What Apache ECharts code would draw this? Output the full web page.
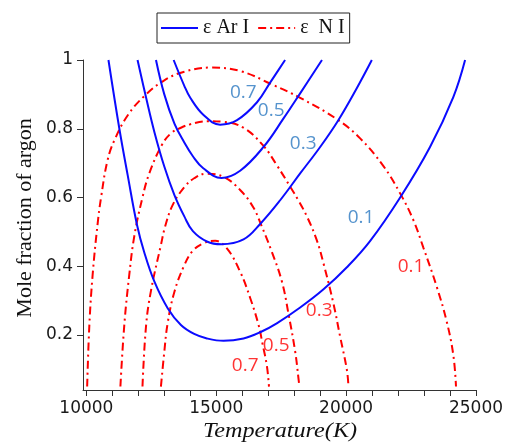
<!DOCTYPE html>
<html>
<head>
<meta charset="utf-8">
<script src="https://cdn.jsdelivr.net/npm/echarts@6/dist/echarts.min.js"></script>
<style>html,body{margin:0;padding:0;background:#fff}#chart{width:511px;height:442px}</style>
</head>
<body>
<div id="chart"></div>
<script>
// ---- data: [Temperature (K), mole fraction of argon] ----
const arLevels = ['0.1', '0.3', '0.5', '0.7'];
const ar01 = [[10850,1.0],[11270,0.80],[11590,0.665],[11950,0.52],[12230,0.44],[12620,0.355],[13130,0.278],[13640,0.229],[14150,0.203],[14640,0.19],[15280,0.183],[16050,0.19],[16690,0.208],[17330,0.234],[18230,0.28],[19130,0.333],[20030,0.397],[20920,0.473],[22080,0.6],[23230,0.747],[24130,0.893],[24580,1.0]];
const ar03 = [[11970,1.0],[12300,0.89],[12620,0.79],[13000,0.69],[13390,0.607],[13770,0.545],[14100,0.502],[14640,0.472],[15200,0.464],[16050,0.478],[16690,0.523],[17460,0.592],[18230,0.67],[19000,0.747],[19700,0.825],[20410,0.918],[20990,1.0]];
const ar05 = [[12680,1.0],[13000,0.9],[13390,0.815],[13770,0.76],[14100,0.72],[14500,0.685],[15200,0.657],[15920,0.678],[16820,0.747],[17590,0.83],[18230,0.903],[19070,1.0]];
const ar07 = [[13360,1.0],[13770,0.925],[14000,0.89],[14510,0.84],[15150,0.812],[15800,0.825],[16570,0.877],[17080,0.935],[17650,1.0]];

const nLevels = ['0.1', '0.3', '0.5', '0.7'];
const n01 = [[10030,0.05],[10115,0.229],[10240,0.374],[10435,0.525],[10565,0.6],[10820,0.71],[11100,0.77],[11600,0.84],[12230,0.895],[13000,0.941],[13770,0.966],[14770,0.978],[15920,0.968],[17200,0.927],[18230,0.89],[19700,0.825],[20540,0.772],[21430,0.692],[22080,0.612],[22590,0.534],[22970,0.455],[23490,0.34],[23870,0.24],[24130,0.14],[24230,0.05]];
const n03 = [[11310,0.05],[11460,0.229],[11650,0.374],[11850,0.49],[12160,0.6],[12420,0.67],[12900,0.752],[13260,0.787],[13640,0.803],[14000,0.813],[14640,0.822],[15280,0.82],[16050,0.803],[16820,0.75],[17340,0.693],[17850,0.631],[18160,0.592],[18490,0.545],[18870,0.476],[19130,0.408],[19510,0.292],[19770,0.195],[20030,0.098],[20090,0.05]];
const n05 = [[12160,0.05],[12300,0.229],[12490,0.33],[12870,0.462],[13030,0.515],[13320,0.578],[13770,0.63],[14150,0.656],[14600,0.669],[15280,0.66],[15920,0.622],[16430,0.571],[16720,0.522],[17140,0.442],[17530,0.355],[17780,0.262],[18040,0.151],[18165,0.074],[18200,0.05]];
const n07 = [[12870,0.05],[13000,0.151],[13130,0.235],[13390,0.326],[13770,0.403],[14100,0.445],[14510,0.467],[14960,0.474],[15410,0.452],[15920,0.384],[16310,0.307],[16630,0.229],[16780,0.175],[16950,0.11],[17030,0.05]];

// curve annotations (data coordinates of label centres)
const arLabelAnchors = [[20577,0.543],[18346,0.758],[17115,0.854],[16040,0.906]];
const nLabelAnchors = [[22500,0.398],[18962,0.270],[17308,0.168],[16115,0.110]];

// ticks
const xTickValues = [10000,11000,12000,13000,14000,15000,16000,17000,18000,19000,20000,21000,22000,23000,24000,25000];
const xLabelValues = [10000,15000,20000,25000];
const yTickValues = [0.2,0.4,0.6,0.8,1];

const AR_NAME = 'ε Ar I';
const N_NAME = 'ε  N I';
const BLUE = '#0b0bff';
const RED = '#ff0000';
const dashDot = [8,4,2,4];

const arSeries = [ar01, ar03, ar05, ar07].map(d => ({
  name: AR_NAME, type: 'line', data: d, symbol: 'none', showSymbol: false, smooth: 0.4,
  lineStyle: {color: BLUE, width: 2}, itemStyle: {color: BLUE}, z: 3
}));
const nSeries = [n01, n03, n05, n07].map(d => ({
  name: N_NAME, type: 'line', data: d, symbol: 'none', showSymbol: false, smooth: 0.4,
  lineStyle: {color: RED, width: 2, type: dashDot}, itemStyle: {color: RED}, z: 2
}));
const labelSeries = (anchors, texts, color, nm) => ({
  name: nm, type: 'scatter', symbolSize: 0, silent: true, z: 5,
  data: anchors.map((a, i) => ({value: a, name: texts[i]})),
  label: {show: true, position: 'inside', formatter: '{b}', color: color,
          fontFamily: 'Open Sans', fontSize: 19}
});

const chart = echarts.init(document.getElementById('chart'), null, {renderer: 'canvas'});
chart.setOption({
  animation: false,
  backgroundColor: '#fff',
  grid: {left: 83, right: 35, top: 60, bottom: 52, containLabel: false},
  legend: {
    left: 157, top: 13, orient: 'horizontal',
    data: [{name: AR_NAME}, {name: N_NAME}],
    itemWidth: 37, itemHeight: 14, itemGap: 8,
    padding: [5, 5, 5, 3],
    itemStyle: {opacity: 0},
    borderColor: '#222', borderWidth: 1, borderRadius: 0,
    textStyle: {fontFamily: 'Liberation Serif', fontSize: 20, color: '#111'}
  },
  xAxis: {
    type: 'value', min: 9870, max: 25000,
    axisLine: {show: true, onZero: false, lineStyle: {color: '#333', width: 1}},
    axisTick: {show: true, length: 6, inside: false, customValues: xTickValues, lineStyle: {color: '#333'}},
    axisLabel: {customValues: xLabelValues, formatter: v => String(v), fontFamily: 'DejaVu Sans', fontSize: 17, color: '#1a1a1a', margin: 10},
    splitLine: {show: false}
  },
  yAxis: {
    type: 'value', min: 0.04, max: 1,
    axisLine: {show: true, onZero: false, lineStyle: {color: '#333', width: 1}},
    axisTick: {show: true, length: 6, inside: false, customValues: yTickValues, lineStyle: {color: '#333'}},
    axisLabel: {customValues: yTickValues, formatter: v => String(+v.toFixed(2)), fontFamily: 'DejaVu Sans', fontSize: 17, color: '#1a1a1a', margin: 10},
    splitLine: {show: false}
  },
  graphic: [
    {type: 'text', x: 25, y: 218, rotation: Math.PI / 2,
     style: {text: 'Mole fraction of argon', font: '22px "Liberation Serif"', fill: '#111',
             textAlign: 'center', textVerticalAlign: 'middle'}},
    {type: 'text', x: 280, y: 431, scaleX: 1.1,
     style: {text: 'Temperature(K)', font: 'italic 22px "Liberation Serif"', fill: '#111',
             textAlign: 'center', textVerticalAlign: 'middle'}}
  ],
  series: [
    ...nSeries, ...arSeries,
    labelSeries(arLabelAnchors, arLevels, '#2a78c0', 'arLabels'),
    labelSeries(nLabelAnchors, nLevels, '#ff0000', 'nLabels')
  ]
});
</script>
</body>
</html>
